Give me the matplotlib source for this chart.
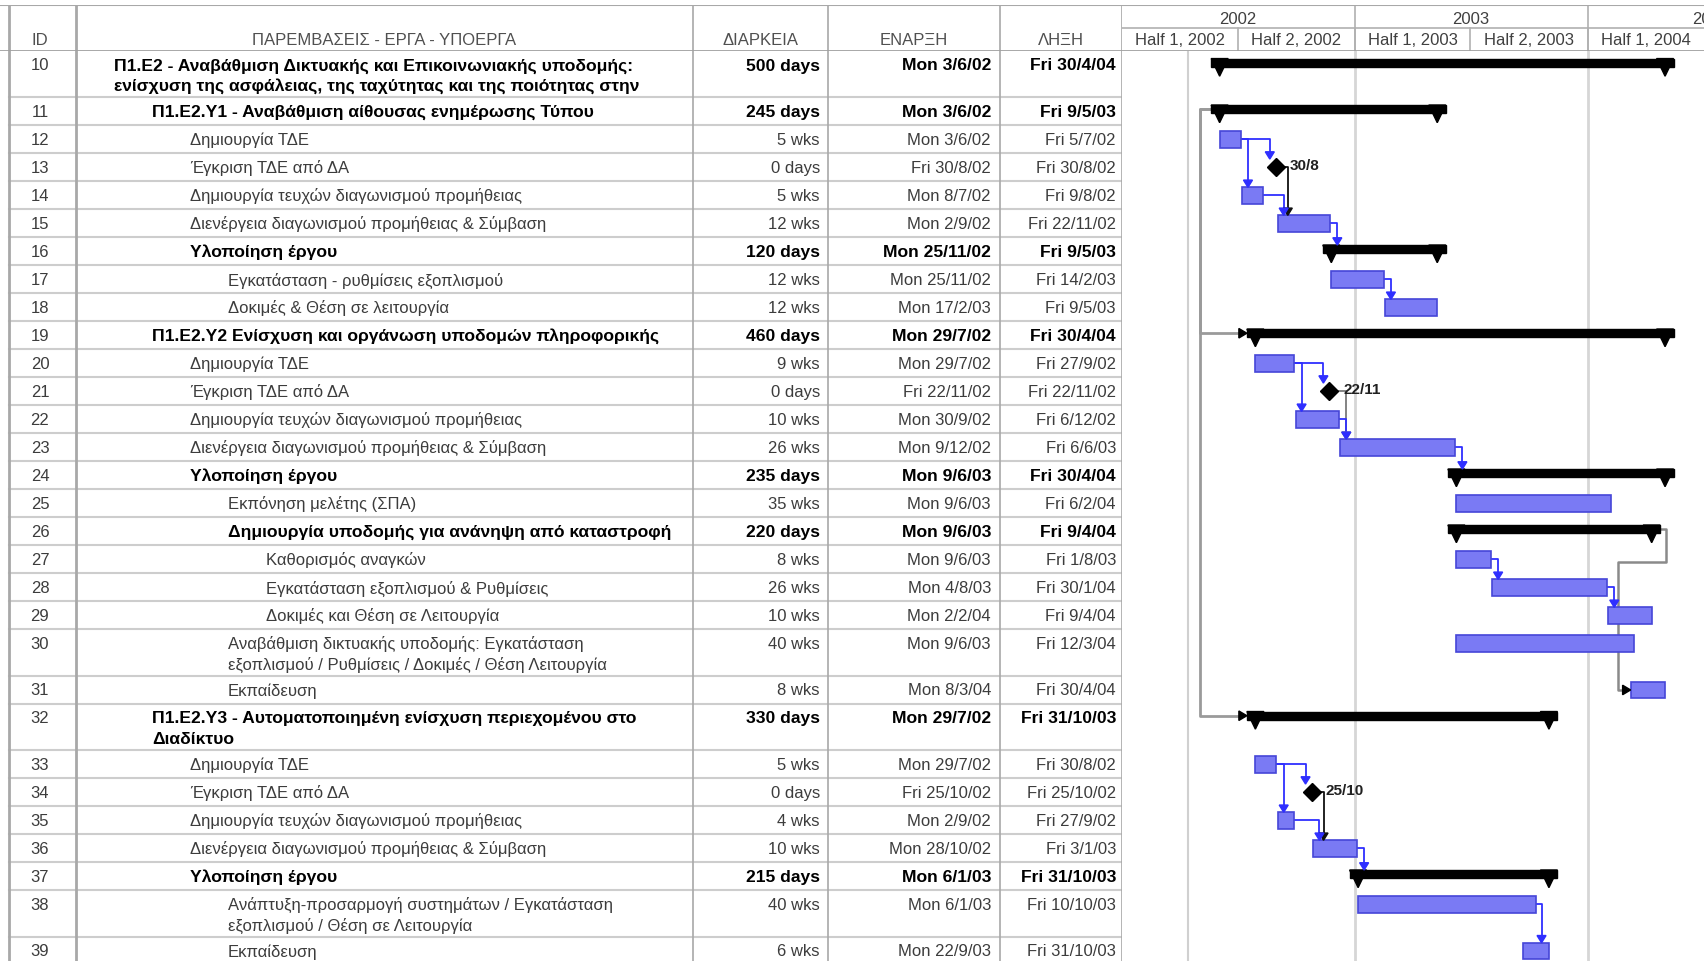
import numpy as np
import pandas as pd
import matplotlib
matplotlib.use("Agg")
import matplotlib.pyplot as plt
import matplotlib.dates as mdates
from matplotlib.patches import Rectangle, Polygon

plt.rcParams['font.family'] = ['Liberation Sans', 'DejaVu Sans']

#--------------------------------------
# Dados do cronograma (uma entrada por tarefa)
#--------------------------------------
task_ids = list(range(10, 40))

task_names = [
    "Π1.Ε2 - Αναβάθμιση Δικτυακής και Επικοινωνιακής υποδομής:\nενίσχυση της ασφάλειας, της ταχύτητας και της ποιότητας στην",
    "Π1.Ε2.Υ1 - Αναβάθμιση αίθουσας ενημέρωσης Τύπου",
    "Δημιουργία ΤΔΕ",
    "Έγκριση ΤΔΕ από ΔΑ",
    "Δημιουργία τευχών διαγωνισμού προμήθειας",
    "Διενέργεια διαγωνισμού προμήθειας & Σύμβαση",
    "Υλοποίηση έργου",
    "Εγκατάσταση - ρυθμίσεις εξοπλισμού",
    "Δοκιμές & Θέση σε λειτουργία",
    "Π1.Ε2.Υ2 Ενίσχυση και οργάνωση υποδομών πληροφορικής",
    "Δημιουργία ΤΔΕ",
    "Έγκριση ΤΔΕ από ΔΑ",
    "Δημιουργία τευχών διαγωνισμού προμήθειας",
    "Διενέργεια διαγωνισμού προμήθειας & Σύμβαση",
    "Υλοποίηση έργου",
    "Εκπόνηση μελέτης (ΣΠΑ)",
    "Δημιουργία υποδομής για ανάνηψη από καταστροφή",
    "Καθορισμός αναγκών",
    "Εγκατάσταση εξοπλισμού & Ρυθμίσεις",
    "Δοκιμές και Θέση σε Λειτουργία",
    "Αναβάθμιση δικτυακής υποδομής: Εγκατάσταση\nεξοπλισμού / Ρυθμίσεις / Δοκιμές / Θέση Λειτουργία",
    "Εκπαίδευση",
    "Π1.Ε2.Υ3 - Αυτοματοποιημένη ενίσχυση περιεχομένου στο\nΔιαδίκτυο",
    "Δημιουργία ΤΔΕ",
    "Έγκριση ΤΔΕ από ΔΑ",
    "Δημιουργία τευχών διαγωνισμού προμήθειας",
    "Διενέργεια διαγωνισμού προμήθειας & Σύμβαση",
    "Υλοποίηση έργου",
    "Ανάπτυξη-προσαρμογή συστημάτων / Εγκατάσταση\nεξοπλισμού / Θέση σε Λειτουργία",
    "Εκπαίδευση",
]

levels = [0, 1, 2, 2, 2, 2, 2, 3, 3, 1, 2, 2, 2, 2, 2, 3, 3, 4, 4, 4, 3, 3,
          1, 2, 2, 2, 2, 2, 3, 3]

durations = ["500 days", "245 days", "5 wks", "0 days", "5 wks", "12 wks",
             "120 days", "12 wks", "12 wks", "460 days", "9 wks", "0 days",
             "10 wks", "26 wks", "235 days", "35 wks", "220 days", "8 wks",
             "26 wks", "10 wks", "40 wks", "8 wks", "330 days", "5 wks",
             "0 days", "4 wks", "10 wks", "215 days", "40 wks", "6 wks"]

starts = ["Mon 3/6/02", "Mon 3/6/02", "Mon 3/6/02", "Fri 30/8/02", "Mon 8/7/02",
          "Mon 2/9/02", "Mon 25/11/02", "Mon 25/11/02", "Mon 17/2/03",
          "Mon 29/7/02", "Mon 29/7/02", "Fri 22/11/02", "Mon 30/9/02",
          "Mon 9/12/02", "Mon 9/6/03", "Mon 9/6/03", "Mon 9/6/03", "Mon 9/6/03",
          "Mon 4/8/03", "Mon 2/2/04", "Mon 9/6/03", "Mon 8/3/04", "Mon 29/7/02",
          "Mon 29/7/02", "Fri 25/10/02", "Mon 2/9/02", "Mon 28/10/02",
          "Mon 6/1/03", "Mon 6/1/03", "Mon 22/9/03"]

finishes = ["Fri 30/4/04", "Fri 9/5/03", "Fri 5/7/02", "Fri 30/8/02", "Fri 9/8/02",
            "Fri 22/11/02", "Fri 9/5/03", "Fri 14/2/03", "Fri 9/5/03",
            "Fri 30/4/04", "Fri 27/9/02", "Fri 22/11/02", "Fri 6/12/02",
            "Fri 6/6/03", "Fri 30/4/04", "Fri 6/2/04", "Fri 9/4/04", "Fri 1/8/03",
            "Fri 30/1/04", "Fri 9/4/04", "Fri 12/3/04", "Fri 30/4/04",
            "Fri 31/10/03", "Fri 30/8/02", "Fri 25/10/02", "Fri 27/9/02",
            "Fri 3/1/03", "Fri 31/10/03", "Fri 10/10/03", "Fri 31/10/03"]

summary_ids = [10, 11, 16, 19, 24, 26, 32, 37]
milestone_ids = [13, 21, 34]

# ligacoes fim->inicio (predecessora, sucessora, cor)
links = [(12, 13, 'blue'), (12, 14, 'blue'), (13, 15, 'black'), (14, 15, 'blue'),
         (15, 16, 'blue'), (17, 18, 'blue'),
         (20, 21, 'blue'), (20, 22, 'blue'), (21, 23, 'gray'), (22, 23, 'blue'),
         (23, 24, 'blue'), (27, 28, 'blue'), (28, 29, 'blue'),
         (33, 34, 'blue'), (33, 35, 'blue'), (34, 36, 'black'), (35, 36, 'blue'),
         (36, 37, 'blue'), (38, 39, 'blue')]
start_links = [(11, 19), (11, 32)]   # saem pela esquerda da tarefa resumo
back_links = [(26, 31)]              # sucessora comeca antes do fim

year_labels = ["2002", "2003", "2004"]
year_label_at = ["2002-07-02", "2003-07-02", "2004-07-12"]   # centro do rotulo (2004 cortado)
half_labels = ["Half 1, 2002", "Half 2, 2002", "Half 1, 2003", "Half 2, 2003", "Half 1, 2004"]
half_starts = ["2002-01-01", "2002-07-01", "2003-01-01", "2003-07-01", "2004-01-01", "2004-07-01"]
status_date = "2002-04-14"

#--------------------------------------
# Layout (pixels)
#--------------------------------------
W, H = 1704, 962
head_top, head_bot = 6, 52
row_px = 28.0
col_x = [9, 76, 693, 828, 1000, 1122]
fs = 12
fs_b = 12.6
blue_fill = '#7a7af4'
blue_edge = '#4646d8'
link_col = {'blue': '#2f2fff', 'black': '#101010', 'gray': '#7a7a7a'}

to_date = lambda s: pd.to_datetime(s.split()[1], format='%d/%m/%y')
d_start = [mdates.date2num(to_date(s)) for s in starts]
d_end = [mdates.date2num(to_date(s)) + 1 for s in finishes]
row_h = [1.66 if '\n' in n else 1.0 for n in task_names]
tops = np.concatenate([[0], np.cumsum(row_h)[:-1]])
idx = {t: i for i, t in enumerate(task_ids)}

body_units = (H - head_bot) / row_px
x0 = mdates.date2num(pd.Timestamp(half_starts[0]))
x1 = mdates.date2num(pd.Timestamp(half_starts[-1]))
dpx = (x1 - x0) / (W - col_x[-1])     # dias por pixel

fig = plt.figure(figsize=(W / 100, H / 100), dpi=100)
bh = (H - head_bot) / H
hh = (head_bot - head_top) / H
ax_t = fig.add_axes([0, 0, col_x[-1] / W, bh])
ax_g = fig.add_axes([col_x[-1] / W, 0, 1 - col_x[-1] / W, bh])
ax_h = fig.add_axes([0, bh, col_x[-1] / W, hh])
ax_th = fig.add_axes([col_x[-1] / W, bh, 1 - col_x[-1] / W, hh])
for a in (ax_t, ax_h):
    a.set_xlim(0, col_x[-1])
for a in (ax_g, ax_th):
    a.set_xlim(x0, x1)
ax_t.set_ylim(body_units, 0)
ax_g.set_ylim(body_units, 0)
ax_h.set_ylim(1, 0)
ax_th.set_ylim(1, 0)
for a in (ax_t, ax_g, ax_h, ax_th):
    a.axis('off')

#--------------------------------------
# Tabela
#--------------------------------------
for i, t in enumerate(task_ids):
    top = tops[i]
    bold = t in summary_ids
    fw = 'bold' if bold else 'normal'
    col = 'black' if bold else '#3c3c3c'
    sz = fs_b if bold else fs
    ax_t.text(40, top + 0.5, str(t), ha='center', va='center', fontsize=fs, color='#3c3c3c')
    for k, line in enumerate(task_names[i].split('\n')):
        ax_t.text(114 + 38 * levels[i], top + 0.5 + 0.72 * k, line, ha='left', va='center',
                  fontsize=sz, color=col, fontweight=fw)
    ax_t.text(820, top + 0.5, durations[i], ha='right', va='center', fontsize=sz, color=col, fontweight=fw)
    ax_t.text(991, top + 0.5, starts[i], ha='right', va='center', fontsize=sz, color=col, fontweight=fw)
    ax_t.text(1116, top + 0.5, finishes[i], ha='right', va='center', fontsize=sz, color=col, fontweight=fw)
    ax_t.plot([col_x[0], col_x[-1]], [top + row_h[i]] * 2, color='#cdcdcd', lw=1.5)

for k, x in enumerate(col_x):
    ax_t.axvline(x, color='#a8a8a8', lw=2 if k < 2 else 1.2)
    ax_h.axvline(x, color='#a8a8a8', lw=2 if k < 2 else 1.2)

head_txt = ["ID", "ΠΑΡΕΜΒΑΣΕΙΣ - ΕΡΓΑ - ΥΠΟΕΡΓΑ", "ΔΙΑΡΚΕΙΑ", "ΕΝΑΡΞΗ", "ΛΗΞΗ"]
for k, s in enumerate(head_txt):
    xc = 40 if k == 0 else (col_x[k] + col_x[k + 1]) / 2
    ax_h.text(xc, 0.76, s, ha='center', va='center', fontsize=fs, color='#505050')
ax_h.axhline(0.01, color='#a8a8a8', lw=1.5)
ax_h.axhline(0.99, color='#a0a0a0', lw=2)

#--------------------------------------
# Escala de tempo
#--------------------------------------
hs = [mdates.date2num(pd.Timestamp(d)) for d in half_starts]
for k, lab in enumerate(half_labels):
    ax_th.text((hs[k] + hs[k + 1]) / 2, 0.76, lab, ha='center', va='center', fontsize=fs, color='#404040')
    if k > 0:
        ax_th.plot([hs[k]] * 2, [0.5, 1], color='#b0b0b0', lw=1.2)
for k, lab in enumerate(year_labels):
    ax_th.text(mdates.date2num(pd.Timestamp(year_label_at[k])), 0.3, lab, ha='center', va='center',
               fontsize=fs, color='#404040', clip_on=True)
    if k > 0:
        ys = hs[2 * k]
        ax_th.axvline(ys, color='#b0b0b0', lw=1.2)
        ax_g.axvline(ys, color='#d6d6d6', lw=2)
ax_th.axhline(0.5, color='#b0b0b0', lw=1.2)
ax_th.axhline(0.01, color='#a8a8a8', lw=1.5)
ax_th.axhline(0.99, color='#a0a0a0', lw=2)
ax_g.axvline(mdates.date2num(pd.Timestamp(status_date)), color='#d0d0d0', lw=1.5)

#--------------------------------------
# Barras
#--------------------------------------
cap = 8.5 * dpx
for i, t in enumerate(task_ids):
    yc = tops[i] + 0.5
    if t in summary_ids:
        yb = tops[i] + 0.42
        ax_g.add_patch(Rectangle((d_start[i] - cap, yb - 0.15), d_end[i] - d_start[i] + 2 * cap, 0.3,
                                 fc='black', ec='black', zorder=3))
        for xc in (d_start[i], d_end[i]):
            ax_g.add_patch(Polygon([(xc - cap, yb - 0.15), (xc + cap, yb - 0.15), (xc, yb + 0.48)],
                                   closed=True, fc='black', ec='black', zorder=3))
    elif t in milestone_ids:
        ax_g.plot(d_start[i], yc, marker='D', ms=9, color='black', zorder=4)
        d = to_date(starts[i])
        ax_g.text(d_start[i] + 14 * dpx, yc - 0.1, f"{d.day}/{d.month}", ha='left', va='center',
                  fontsize=11, fontweight='bold', color='#202020')
    else:
        ax_g.add_patch(Rectangle((d_start[i], yc - 0.29), d_end[i] - d_start[i], 0.58,
                                 fc=blue_fill, ec=blue_edge, lw=1.2, zorder=3))

#--------------------------------------
# Ligacoes
#--------------------------------------
aw, ah = 4.5 * dpx, 0.26


def top_of(j):
    t = task_ids[j]
    if t in summary_ids:
        return tops[j] + 0.27
    if t in milestone_ids:
        return tops[j] + 0.2
    return tops[j] + 0.21


for p, s, c in links:
    i, j = idx[p], idx[s]
    col = link_col[c]
    if p in milestone_ids:
        xs = d_start[i] + 6 * dpx
    else:
        xs = d_end[i]
    ys = tops[i] + 0.5
    if s in milestone_ids:
        xv = d_start[j] - 6 * dpx
    else:
        xv = max(xs, d_start[j]) + 6 * dpx
    yt = top_of(j)
    ax_g.plot([xs, xv, xv], [ys, ys, yt - ah], color=col, lw=1.3, zorder=2)
    ax_g.add_patch(Polygon([(xv - aw, yt - ah), (xv + aw, yt - ah), (xv, yt)], closed=True,
                           fc=col, ec=col, zorder=5))

for p, s in start_links:
    i, j = idx[p], idx[s]
    xl = d_start[i] - 20 * dpx
    yp = tops[i] + 0.42
    ys = tops[j] + 0.42
    xe = d_start[j] - cap
    ax_g.plot([d_start[i] - cap, xl, xl, xe - 6 * dpx], [yp, yp, ys, ys], color='#9a9a9a', lw=2, zorder=2)
    ax_g.add_patch(Polygon([(xe - 8 * dpx, ys - 0.17), (xe - 8 * dpx, ys + 0.17), (xe, ys)],
                           closed=True, fc='black', ec='black', zorder=5))

for p, s in back_links:
    i, j = idx[p], idx[s]
    xr = d_end[i] + cap + 6 * dpx
    yp = tops[i] + 0.42
    ym = tops[i] + 1.6
    xl = d_start[j] - 13 * dpx
    ys = tops[j] + 0.5
    ax_g.plot([d_end[i] + cap, xr, xr, xl, xl, d_start[j] - 6 * dpx],
              [yp, yp, ym, ym, ys, ys], color='#8a8a8a', lw=1.8, zorder=2)
    ax_g.add_patch(Polygon([(d_start[j] - 8 * dpx, ys - 0.17), (d_start[j] - 8 * dpx, ys + 0.17), (d_start[j], ys)],
                           closed=True, fc='black', ec='black', zorder=5))

fig.savefig("out.png", dpi=100, facecolor='white')
